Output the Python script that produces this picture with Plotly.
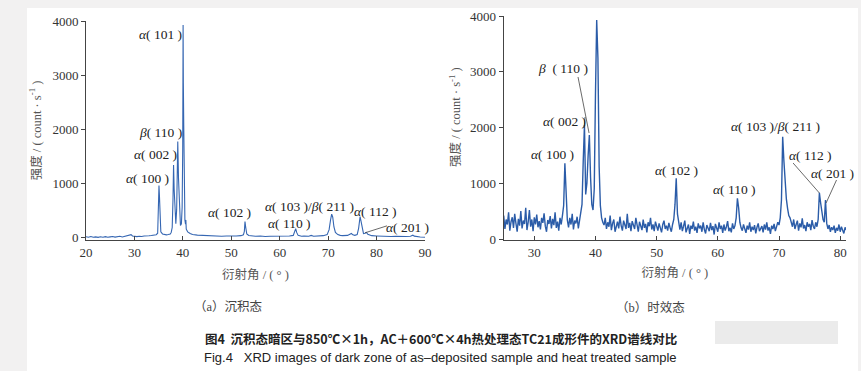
import numpy as np
import plotly.graph_objects as go

# ---------------- data: (a) as-deposited ----------------
angle_a = [20.0, 20.5, 21.0, 21.5, 22.0, 22.5, 23.0, 23.5, 24.0, 24.5, 25.0, 25.5, 26.0, 26.5,
           27.0, 27.5, 28.0, 28.5, 29.0, 29.3, 29.6, 30.0, 30.5, 31.0, 31.5, 32.0, 32.5, 33.0,
           33.5, 34.0, 34.5, 34.8, 34.95, 35.07, 35.17, 35.3, 35.45, 35.8, 36.2, 36.6, 37.0,
           37.4, 37.6, 37.8, 37.96, 38.08, 38.2, 38.35, 38.55, 38.72, 38.82, 38.95, 39.1, 39.3,
           39.5, 39.7, 39.85, 39.97, 40.05, 40.1, 40.18, 40.3, 40.42, 40.55, 40.62, 40.7, 41.0,
           41.5, 42.0, 43.0, 44.0, 45.0, 46.0, 47.0, 48.0, 49.0, 50.0, 51.0, 52.0, 52.5, 52.7,
           52.83, 52.97, 53.2, 53.6, 54.2, 55.0, 56.0, 57.0, 58.0, 59.0, 60.0, 61.0, 62.0, 62.8,
           63.1, 63.3, 63.5, 63.8, 64.5, 65.0, 66.0, 66.5, 67.0, 68.0, 69.0, 69.8, 70.2, 70.5,
           70.73, 70.95, 71.2, 71.5, 72.0, 72.5, 73.0, 74.0, 74.5, 74.8, 75.1, 75.5, 76.0, 76.3,
           76.6, 76.8, 77.0, 77.3, 77.6, 77.9, 78.2, 78.6, 79.0, 80.0, 81.0, 82.0, 83.0, 84.0,
           85.0, 86.0, 87.0, 87.5, 87.8, 88.5, 89.0, 90.0]
intensity_a = [20, 12, 25, 10, 18, 8, 20, 12, 22, 10, 18, 25, 14, 20, 28, 16, 25, 30, 42, 58,
               34, 28, 22, 30, 24, 34, 30, 38, 42, 48, 58, 85, 420, 965, 760, 280, 110, 72, 60,
               55, 60, 70, 100, 190, 700, 1345, 900, 420, 260, 520, 1300, 1775, 1100, 420, 230,
               260, 560, 1600, 3926, 2863, 2100, 900, 330, 250, 330, 160, 110, 80, 60, 50, 45,
               40, 35, 38, 30, 35, 30, 35, 40, 55, 120, 300, 200, 70, 42, 36, 30, 35, 25, 30,
               28, 30, 25, 35, 45, 110, 171, 100, 45, 30, 35, 30, 45, 30, 35, 40, 60, 150, 330,
               437, 380, 200, 100, 60, 45, 40, 45, 60, 80, 55, 45, 60, 180, 393, 300, 150, 80,
               85, 100, 65, 48, 40, 35, 30, 28, 25, 30, 22, 25, 30, 48, 32, 20, 15, 10]

# ---------------- data: (b) aged (scan 25..81, step 0.2) ----------------
start_b, step_b = 25.0, 0.2
intensity_b = [
    420, 180, 350, 260, 480,    # 25
    150, 310, 390, 200, 450,    # 26
    280, 130, 360, 240, 500,    # 27
    190, 330, 270, 560, 160,    # 28
    300, 520, 220, 350, 140,    # 29
    390, 260, 440, 210, 320,    # 30
    170, 380, 290, 460, 230,    # 31
    130, 340, 270, 410, 190,    # 32
    360, 250, 480, 200, 310,    # 33
    150, 380, 260, 420, 600,    # 34
    1357, 650, 340, 210, 380,   # 35
    260, 450, 170, 330, 280,    # 36
    400, 190, 350, 460, 620,    # 37
    1400, 2045, 800, 1000, 1500,  # 38
    1865, 1100, 620, 520, 900,  # 39
    2600, 3930, 3250, 1300, 600,  # 40
    380, 300, 250, 380, 180,    # 41
    300, 220, 420, 160, 280,    # 42
    350, 130, 260, 310, 190,    # 43
    400, 240, 150, 330, 260,    # 44
    180, 450, 200, 290, 140,    # 45
    320, 250, 180, 380, 220,    # 46
    130, 310, 240, 160, 350,    # 47
    200, 270, 120, 300, 230,    # 48
    380, 170, 260, 140, 310,    # 49
    220, 150, 280, 200, 120,    # 50
    260, 330, 180, 240, 150,    # 51
    290, 200, 130, 260, 350,    # 52
    620, 1088, 450, 250, 170,   # 53
    300, 140, 230, 330, 120,    # 54
    200, 260, 90, 240, 180,     # 55
    310, 150, 220, 110, 280,    # 56
    190, 240, 130, 300, 170,    # 57
    100, 250, 200, 140, 290,    # 58
    160, 230, 80, 270, 190,     # 59
    130, 300, 180, 240, 110,    # 60
    260, 150, 220, 320, 140,    # 61
    200, 120, 280, 180, 240,    # 62
    380, 730, 560, 300, 200,    # 63
    150, 260, 190, 110, 240,    # 64
    170, 300, 130, 220, 160,    # 65
    250, 100, 210, 280, 140,    # 66
    190, 230, 120, 260, 170,    # 67
    300, 150, 210, 90, 240,     # 68
    180, 270, 140, 220, 300,    # 69
    250, 380, 700, 1835, 1400,  # 70
    1000, 720, 550, 420, 380,   # 71
    300, 220, 350, 180, 260,    # 72
    330, 150, 280, 210, 370,    # 73
    190, 250, 140, 300, 220,    # 74
    270, 160, 340, 230, 180,    # 75
    300, 220, 350, 830, 650,    # 76
    480, 350, 300, 700, 280,    # 77
    180, 250, 130, 210, 160,    # 78
    240, 110, 200, 150, 260,    # 79
    130, 220, 170, 100, 210,    # 80
    160,                        # 81
]
angle_b = np.round(start_b + step_b * np.arange(len(intensity_b)), 2)

ytick_vals = [0, 1000, 2000, 3000, 4000]
xticks_a = [20, 30, 40, 50, 60, 70, 80, 90]
xticks_b = [30, 40, 50, 60, 70, 80]

# labels: (text, x, y) in data coordinates
labels_a = [
    ("<i>α</i>( 101 )", 35.3, 3742),
    ("<i>β</i>( 110 )", 35.3, 1935),
    ("<i>α</i>( 002 )", 34.25, 1530),
    ("<i>α</i>( 100 )", 32.6, 1088),
    ("<i>α</i>( 102 )", 49.7, 461),
    ("<i>α</i>( 103 )/<i>β</i>( 211 )", 66.25, 571),
    ("<i>α</i>( 110 )", 62.1, 258),
    ("<i>α</i>( 112 )", 79.7, 479),
    ("<i>α</i>( 201 )", 86.3, 184),
]
labels_b = [
    ("<i>α</i>( 110 )", 39.1, 4018),
    ("<i>β</i>  ( 110 )", 34.7, 3067),
    ("<i>α</i>( 002 )", 35.0, 2099),
    ("<i>α</i>( 100 )", 33.05, 1507),
    ("<i>α</i>( 102 )", 53.2, 1220),
    ("<i>α</i>( 110 )", 62.7, 879),
    ("<i>α</i>( 103 )/<i>β</i>( 211 )", 69.35, 2009),
    ("<i>α</i>( 112 )", 75.1, 1489),
    ("<i>α</i>( 201 )", 78.7, 1166),
]

W, H = 861, 371
def px(x):
    return x / W
def py(y):
    return 1 - y / H

line_color_a = "#3566b2"
line_color_b = "#2b5ca8"
serif = "Times New Roman, Liberation Serif, serif"
mixed = "Times New Roman, Liberation Serif, Noto Sans CJK SC, serif"
ytitle = "强度 / ( count · s<sup>-1</sup> )"

fig = go.Figure()
fig.add_trace(go.Scatter(x=angle_a, y=intensity_a, mode="lines",
                         line=dict(color=line_color_a, width=1.1), xaxis="x", yaxis="y",
                         showlegend=False, hoverinfo="skip"))
fig.add_trace(go.Scatter(x=angle_b, y=intensity_b, mode="lines",
                         line=dict(color=line_color_b, width=1.4), xaxis="x2", yaxis="y2",
                         showlegend=False, hoverinfo="skip"))

axis_common = dict(showgrid=False, zeroline=False, showline=True, linecolor="#444",
                   linewidth=1, tickcolor="#444", ticklen=4, tickwidth=1, automargin=False,
                   tickfont=dict(family=serif, size=13, color="#333"))

fig.update_layout(
    width=W, height=H, margin=dict(l=0, r=0, t=0, b=0, autoexpand=False),
    paper_bgcolor="#f2f1f1", plot_bgcolor="rgba(0,0,0,0)",
    xaxis=dict(domain=[px(86), px(425)], range=[20, 90], tickvals=xticks_a, ticks="inside",
               anchor="y",
               title=dict(text="衍射角 / ( ° )", font=dict(family=mixed, size=12.5, color="#555"),
                          standoff=11),
               **axis_common),
    yaxis=dict(domain=[py(240), py(21)], range=[-40, 4000], tickvals=ytick_vals, ticks="outside",
               anchor="x",
               title=dict(text=ytitle, font=dict(family=mixed, size=12.5, color="#555"), standoff=8),
               **axis_common),
    xaxis2=dict(domain=[px(503.7), px(846)], range=[25, 80.95], tickvals=xticks_b, ticks="inside",
                anchor="y2",
                title=dict(text="衍射角 / ( ° )", font=dict(family=mixed, size=12.5, color="#555"),
                           standoff=9),
                **axis_common),
    yaxis2=dict(domain=[py(240), py(16)], range=[-18, 4000], tickvals=ytick_vals, ticks="outside",
                anchor="x2", **axis_common),
)

shapes = [
    dict(type="rect", xref="paper", yref="paper", x0=px(27), x1=px(858), y0=0, y1=py(8),
         fillcolor="white", line=dict(width=0), layer="below"),
    dict(type="rect", xref="paper", yref="paper", x0=px(715), x1=px(838), y0=py(344), y1=py(321),
         fillcolor="#e4e4e4", opacity=0.75, line=dict(width=0), layer="below"),
    # leader lines
    dict(type="line", xref="x", yref="y", x0=77.6, y0=92, x1=82.15, y1=221,
         line=dict(color="#444", width=0.8)),
    dict(type="line", xref="x2", yref="y2", x0=37.15, y0=2906, x1=38.95, y1=1901,
         line=dict(color="#444", width=0.8)),
    dict(type="line", xref="x2", yref="y2", x0=38.3, y0=2188, x1=38.15, y1=1991,
         line=dict(color="#444", width=0.8)),
    dict(type="line", xref="x2", yref="y2", x0=72.3, y0=1363, x1=76.6, y1=825,
         line=dict(color="#444", width=0.8)),
    dict(type="line", xref="x2", yref="y2", x0=79.4, y0=1058, x1=77.7, y1=646,
         line=dict(color="#444", width=0.8)),
]
fig.update_layout(shapes=shapes)

ann = []
for t, x, y in labels_a:
    ann.append(dict(text=t, x=x, y=y, xref="x", yref="y", showarrow=False,
                    xanchor="center", yanchor="middle",
                    font=dict(family=serif, size=13.5, color="#222")))
for t, x, y in labels_b:
    ann.append(dict(text=t, x=x, y=y, xref="x2", yref="y2", showarrow=False,
                    xanchor="center", yanchor="middle",
                    font=dict(family=serif, size=13.5, color="#222")))

def paper_text(text, x, y, font, angle=0):
    return dict(text=text, x=px(x), y=py(y), xref="paper", yref="paper", showarrow=False,
                xanchor="center", yanchor="middle", textangle=angle, font=font)

ann += [
    paper_text(ytitle, 455, 117, dict(family=mixed, size=12.5, color="#555"), angle=-90),
    paper_text("（a）沉积态", 228, 307, dict(family=mixed, size=12.5, color="#444")),
    paper_text("（b）时效态", 650, 307, dict(family=mixed, size=12.5, color="#444")),
    paper_text("<b>图4  沉积态暗区与850℃×1h，AC＋600℃×4h热处理态TC21成形件的XRD谱线对比</b>",
               441, 338, dict(family="Liberation Sans Narrow, Noto Sans CJK SC, sans-serif",
                              size=12.5, color="#222")),
    paper_text("Fig.4   XRD images of dark zone of as–deposited sample and heat treated sample",
               440, 357, dict(family="Liberation Sans Narrow, Liberation Sans, sans-serif",
                              size=13, color="#222")),
]
fig.update_layout(annotations=ann)

fig.write_html("out.html", config={"displayModeBar": False},
               post_script="document.body.style.margin='0';document.body.style.background='#f2f1f1';")
